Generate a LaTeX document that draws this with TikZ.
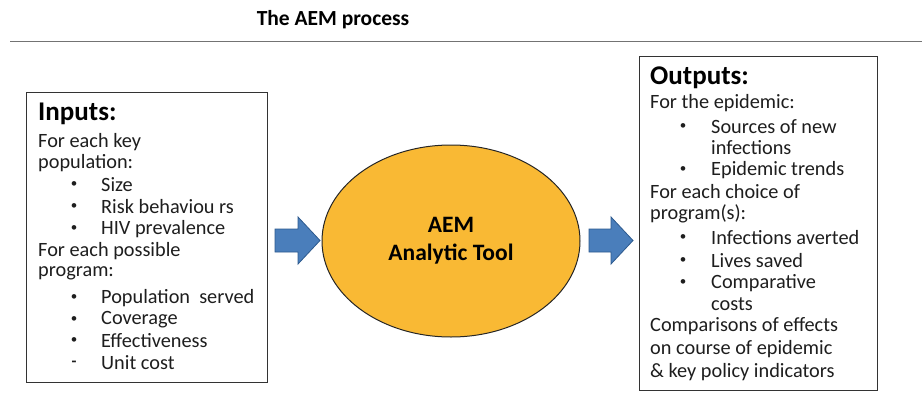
\documentclass[tikz,border=0pt]{standalone}
\usepackage{fontspec}
\setmainfont{Carlito}
\usetikzlibrary{shapes.geometric}
\definecolor{txt}{HTML}{1E1E1E}
\definecolor{gold}{HTML}{F9B934}
\definecolor{arrowblue}{HTML}{4A7EBB}
\definecolor{arrowedge}{HTML}{2D5A8E}
\tikzset{
  line/.style={anchor=west,inner sep=0pt,font=\fontsize{20.3}{20.3}\selectfont,text=txt},
  head/.style={anchor=west,inner sep=0pt,font=\fontsize{27}{27}\selectfont\bfseries,text=black},
  bul/.style={anchor=center,inner sep=0pt,font=\fontsize{13}{13}\selectfont,text=txt},
  frame/.style={draw=black!80,line width=1.1pt,fill=white},
  blockarrow/.style={draw=arrowedge,fill=arrowblue,line width=0.8pt,line join=miter}
}
\begin{document}
\begin{tikzpicture}[x=1pt,y=-1pt]
\useasboundingbox[fill=white] (0,0) rectangle (922,399);
% title and rule
\node[inner sep=0pt,font=\fontsize{21.5}{21.5}\selectfont\bfseries,text=black] (title) at (333,20) {The AEM process};
\draw[draw=black!55,line width=1.6pt] (10,41.5) coordinate (r1) -- (922,41.5) coordinate (r2);
% input box
\node[frame,minimum width=241pt,minimum height=290pt,anchor=north west] (inbox) at (26,92) {};
\node[head] (inh) at (38,114) {Inputs:};
\foreach \t/\y [count=\i] in {For each key/142,population:/163,For each possible/251,program:/273}
  \node[line] (inl\i) at (38,\y) {\t};
\foreach \t/\y [count=\i] in {Size/185,Risk behaviou rs/207,HIV prevalence/229,Population\ \ served/298,Coverage/320,Effectiveness/341}{
  \node[bul] (inb\i) at (74,\y) {•};
  \node[line] (ini\i) at (101,\y) {\t};
}
\node[bul,font=\fontsize{16}{16}\selectfont\bfseries] (inb7) at (74,364) {-};
\node[line] (ini7) at (101,363) {Unit cost};
% output box
\node[frame,minimum width=238pt,minimum height=334pt,anchor=north west] (outbox) at (639,56) {};
\node[head] (outh) at (650,78) {Outputs:};
\foreach \t/\y [count=\i] in {For the epidemic:/103,For each choice of/192,program(s):/214,Comparisons of effects/326,on course of epidemic/349,\& key policy indicators/372}
  \node[line] (outl\i) at (650,\y) {\t};
\foreach \t/\y [count=\i] in {Sources of new/127,Epidemic trends/170,Infections averted/238,Lives saved/261,Comparative/283}{
  \node[bul] (outb\i) at (683,\y) {•};
  \node[line] (outi\i) at (711,\y) {\t};
}
\node[line] (outi6) at (711,304) {costs};
\node[line] (outi7) at (711,148) {infections};
% ellipse
\node[ellipse,draw=black!85,line width=1pt,fill=gold,minimum width=258pt,minimum height=192pt,
  align=center,font=\fontsize{23.5}{28}\selectfont\bfseries,text=black] (tool) at (451,241) {AEM\\Analytic Tool};
% block arrows
\draw[blockarrow] (275,229) -- (298,229) -- (298,217) -- (320,240.5) coordinate (ainTip) -- (298,264) -- (298,252) -- (275,252) -- cycle;
\draw[blockarrow] (589,229) -- (611,229) -- (611,217) -- (633,240.5) coordinate (aoutTip) -- (611,264) -- (611,252) -- (589,252) -- cycle;
\end{tikzpicture}
\end{document}
